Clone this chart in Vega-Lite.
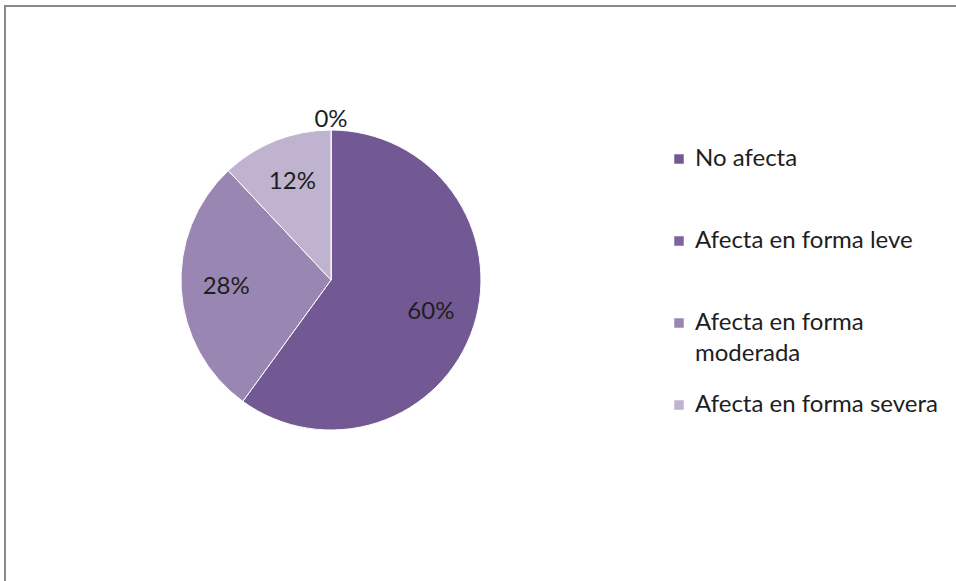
{
  "$schema": "https://vega.github.io/schema/vega-lite/v6.json",
  "autosize": "none",
  "width": 961,
  "height": 585,
  "padding": {"left": 5, "top": 6, "right": -10, "bottom": -10},
  "background": "white",
  "config": {
    "view": {"stroke": "#8a8a8a", "strokeWidth": 2},
    "font": "Lato",
    "text": {"font": "Lato"},
    "style": {"guide-label": {"lineHeight": 31}}
  },
  "data": {
    "values": [
      {"categoria": "No afecta", "valor": 0.60, "orden": 1},
      {"categoria": "Afecta en forma leve", "valor": 0.0, "orden": 4},
      {"categoria": "Afecta en forma moderada", "valor": 0.28, "orden": 2},
      {"categoria": "Afecta en forma severa", "valor": 0.12, "orden": 3}
    ]
  },
  "encoding": {
    "theta": {"field": "valor", "type": "quantitative", "stack": true},
    "order": {"field": "orden", "type": "quantitative"},
    "x": {"datum": 0.3392, "type": "quantitative", "scale": {"domain": [0, 1], "nice": false, "zero": false}, "axis": null},
    "y": {"datum": 0.5316, "type": "quantitative", "scale": {"domain": [0, 1], "nice": false, "zero": false}, "axis": null}
  },
  "layer": [
    {
      "mark": {"type": "arc", "outerRadius": 150, "stroke": "white", "strokeWidth": 1},
      "encoding": {
        "color": {
          "field": "categoria",
          "type": "nominal",
          "sort": ["No afecta", "Afecta en forma leve", "Afecta en forma moderada", "Afecta en forma severa"],
          "scale": {
            "domain": ["No afecta", "Afecta en forma leve", "Afecta en forma moderada", "Afecta en forma severa"],
            "range": ["#735993", "#7d61a1", "#9a86b3", "#bfb3cf"]
          },
          "legend": {
            "title": null,
            "orient": "none",
            "legendX": 662,
            "legendY": 141,
            "symbolType": "square",
            "symbolSize": 90,
            "symbolStrokeWidth": 0,
            "labelFont": "Lato",
            "labelFontSize": 24,
            "labelColor": "#1e1e1e",
            "labelLimit": 320,
            "gridAlign": "all",
            "rowPadding": 27,
            "labelOffset": 4,
            "labelExpr": "datum.label == 'Afecta en forma moderada' ? ['Afecta en forma', 'moderada'] : datum.label"
          }
        }
      }
    },
    {
      "mark": {"type": "text", "radius": 105, "fontSize": 24, "font": "Lato", "color": "#1e1e1e"},
      "encoding": {
        "text": {"condition": {"test": "datum.valor > 0", "field": "valor", "type": "quantitative", "format": ".0%"}, "value": ""}
      }
    },
    {
      "mark": {"type": "text", "radius": 160, "fontSize": 24, "font": "Lato", "color": "#1e1e1e"},
      "encoding": {
        "text": {"condition": {"test": "datum.valor == 0", "field": "valor", "type": "quantitative", "format": ".0%"}, "value": ""}
      }
    }
  ]
}
